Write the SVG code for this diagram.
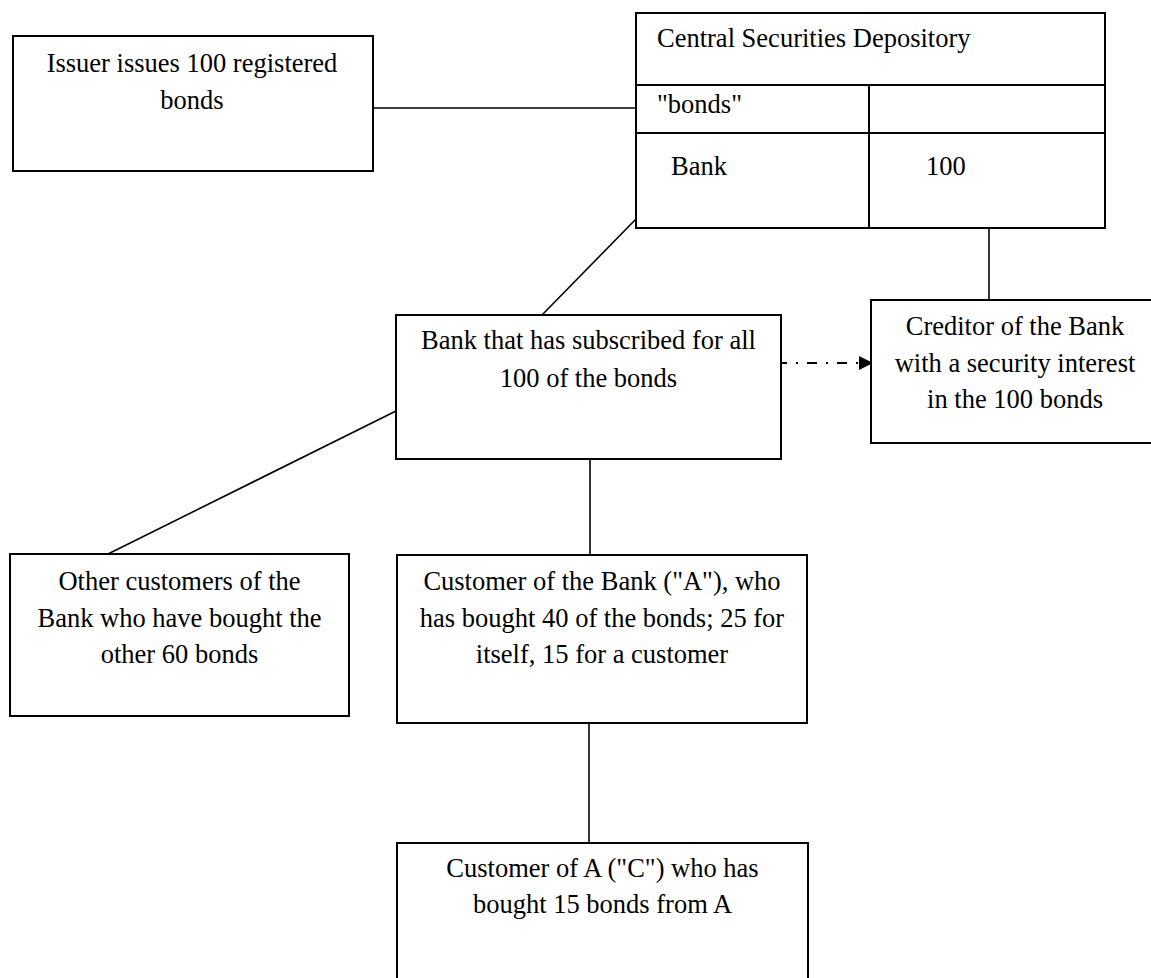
<svg xmlns="http://www.w3.org/2000/svg" width="1151" height="978" viewBox="0 0 1151 978">
  <defs>
    <style>
      .box { fill: #ffffff; stroke: #000000; stroke-width: 2; }
      .rule { stroke: #000000; stroke-width: 2; fill: none; }
      .link { stroke: #000000; stroke-width: 1.6; fill: none; }
      .dash { stroke: #000000; stroke-width: 2; fill: none; stroke-dasharray: 10 9 2 9; stroke-dashoffset: 4; }
      .t { font-family: "Liberation Serif", "Times New Roman", serif; font-size: 26.5px; fill: #000000; }
      .c { text-anchor: middle; }
    </style>
    <marker id="arrowhead" markerWidth="14" markerHeight="14" refX="0" refY="7" orient="auto" markerUnits="userSpaceOnUse">
      <polygon points="0,0 14,7 0,14" fill="#000000"/>
    </marker>
  </defs>
  <rect width="1151" height="978" fill="#ffffff"/>

  <g id="connectors">
    <line class="link" x1="373" y1="108" x2="636" y2="108"/>
    <line class="link" x1="636" y1="219" x2="542" y2="315"/>
    <line class="link" x1="989" y1="228" x2="989" y2="300"/>
    <line class="link" x1="396" y1="411" x2="108" y2="554"/>
    <line class="link" x1="590" y1="459" x2="590" y2="555"/>
    <line class="link" x1="589" y1="723" x2="589" y2="843"/>
    <line class="dash" x1="781" y1="363" x2="859" y2="363" marker-end="url(#arrowhead)"/>
  </g>

  <g id="issuer">
    <rect class="box" x="13" y="36" width="360" height="135"/>
    <text class="t c" x="192" y="71.5">Issuer issues 100 registered</text>
    <text class="t c" x="192" y="108.5">bonds</text>
  </g>

  <g id="csd">
    <rect class="box" x="636" y="13" width="469" height="215"/>
    <line class="rule" x1="636" y1="85" x2="1105" y2="85"/>
    <line class="rule" x1="636" y1="133" x2="1105" y2="133"/>
    <line class="rule" x1="869" y1="85" x2="869" y2="228"/>
    <text class="t" x="657" y="46.5">Central Securities Depository</text>
    <text class="t" x="657" y="113">"bonds"</text>
    <text class="t" x="671" y="175">Bank</text>
    <text class="t" x="926" y="175">100</text>
  </g>

  <g id="bank">
    <rect class="box" x="396" y="315" width="385" height="144"/>
    <text class="t c" x="588.5" y="349">Bank that has subscribed for all</text>
    <text class="t c" x="588.5" y="386.5">100 of the bonds</text>
  </g>

  <g id="creditor">
    <rect class="box" x="871" y="300" width="290" height="143"/>
    <text class="t c" x="1015" y="335">Creditor of the Bank</text>
    <text class="t c" x="1015" y="371.5">with a security interest</text>
    <text class="t c" x="1015" y="408">in the 100 bonds</text>
  </g>

  <g id="other-customers">
    <rect class="box" x="10" y="554" width="339" height="162"/>
    <text class="t c" x="179.5" y="590">Other customers of the</text>
    <text class="t c" x="179.5" y="626.5">Bank who have bought the</text>
    <text class="t c" x="179.5" y="663">other 60 bonds</text>
  </g>

  <g id="customer-a">
    <rect class="box" x="397" y="555" width="410" height="168"/>
    <text class="t c" x="602" y="590">Customer of the Bank ("A"), who</text>
    <text class="t c" x="602" y="626.5">has bought 40 of the bonds; 25 for</text>
    <text class="t c" x="602" y="663">itself, 15 for a customer</text>
  </g>

  <g id="customer-c">
    <rect class="box" x="397" y="843" width="411" height="145"/>
    <text class="t c" x="602.5" y="876.5">Customer of A ("C") who has</text>
    <text class="t c" x="602.5" y="913">bought 15 bonds from A</text>
  </g>
</svg>
